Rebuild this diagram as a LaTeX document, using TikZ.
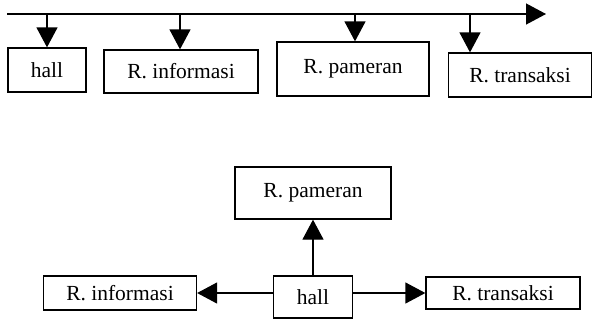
\documentclass[tikz,border=0pt]{standalone}
\usepackage{fontspec}
\setmainfont{Liberation Serif}
\usetikzlibrary{arrows.meta}
\begin{document}
\begin{tikzpicture}[x=1pt,y=-1pt,
  room/.style={draw,line width=1.3pt,inner sep=0pt,
    font=\fontsize{21.5}{25}\selectfont},
  arr/.style={line width=1.3pt,-{Triangle[length=20pt,width=21pt]}}]
\useasboundingbox (0,0) rectangle (596,325);

% sequential layout along a corridor
\coordinate (bs) at (7,14);
\coordinate (be) at (546,14);
\node[room,minimum width=78pt,minimum height=44pt]  (t1) at (47,70)  {hall};
\node[room,minimum width=154pt,minimum height=43pt] (t2) at (181,71.5) {R. informasi};
\node[room,minimum width=152pt,minimum height=54pt] (t3) at (353,69) {R. pameran};
\node[room,minimum width=143pt,minimum height=44pt] (t4) at (520,75) {R. transaksi};
\coordinate (b1) at (47,14);
\coordinate (b2) at (180,14);
\coordinate (b3) at (355,14);
\coordinate (b4) at (470,14);

\draw[arr] (bs) -- (be);
\draw[arr] (b1) -- (b1 |- t1.north);
\draw[arr] (b2) -- (b2 |- t2.north);
\draw[arr] (b3) -- (b3 |- t3.north);
\draw[arr] (b4) -- (b4 |- t4.north);

% central layout around the hall
\node[room,minimum width=79pt,minimum height=42pt]  (h)  at (313,297) {hall};
\node[room,minimum width=156pt,minimum height=52pt] (p)  at (313,193) {R. pameran};
\node[room,minimum width=153pt,minimum height=34pt] (i)  at (120,293) {R. informasi};
\node[room,minimum width=154pt,minimum height=32pt] (tr) at (503,293) {R. transaksi};

\draw[arr] (h.north) -- (p.south);
\draw[arr] (i.east -| h.west) -- (i.east);
\draw[arr] (tr.west -| h.east) -- (tr.west);
\end{tikzpicture}
\end{document}
